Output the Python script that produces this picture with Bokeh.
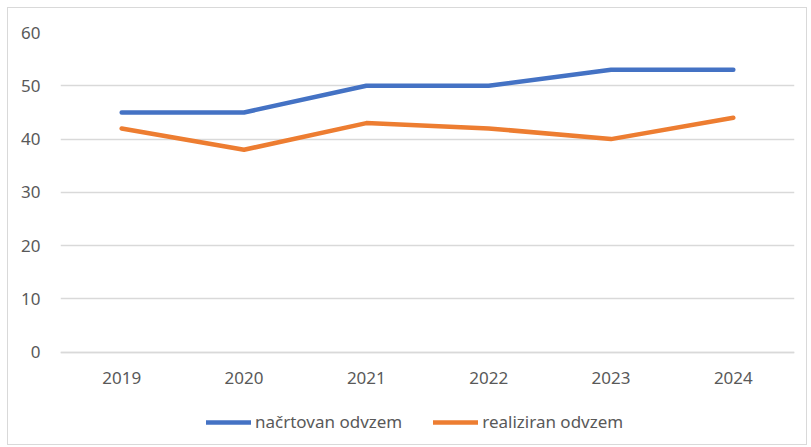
from bokeh.plotting import figure
from bokeh.models import Range1d, Legend, LegendItem
from bokeh.embed import file_html
from bokeh.resources import INLINE

years = ["2019", "2020", "2021", "2022", "2023", "2024"]
planned = [45, 45, 50, 50, 53, 53]
realized = [42, 38, 43, 42, 40, 44]
planned_label = "načrtovan odvzem"
realized_label = "realiziran odvzem"
y_ticks = [0, 10, 20, 30, 40, 50, 60]

p = figure(x_range=years, y_range=Range1d(-16.74, 60), width=800, height=438,
           output_backend="svg", toolbar_location=None,
           min_border_left=52, min_border_right=14, min_border_top=24, min_border_bottom=5)
p.styles = {"border": "1px solid #d9d9d9", "margin-left": "7px", "margin-top": "7px"}
p.outline_line_color = None
p.background_fill_color = "white"
p.border_fill_color = "white"

font = "Noto Sans"
r1 = p.line(years, planned, line_color="#4472C4", line_width=4.5, line_cap="round", line_join="round")
r2 = p.line(years, realized, line_color="#ED7D31", line_width=4.5, line_cap="round", line_join="round")

p.xgrid.grid_line_color = None
p.ygrid.grid_line_color = "#d9d9d9"
p.ygrid.grid_line_width = 1.5
p.yaxis.ticker = y_ticks
p.yaxis.axis_line_color = None
p.yaxis.major_tick_line_color = None
p.yaxis.minor_tick_line_color = None
p.yaxis.major_label_text_font = font
p.yaxis.major_label_text_font_size = "17px"
p.yaxis.major_label_text_color = "#595959"
p.yaxis.major_label_standoff = 14
p.xaxis.fixed_location = 0
p.xaxis.axis_line_color = "#d9d9d9"
p.xaxis.axis_line_width = 1.5
p.xaxis.major_tick_line_color = None
p.xaxis.minor_tick_line_color = None
p.xaxis.major_label_text_font = font
p.xaxis.major_label_text_font_size = "17px"
p.xaxis.major_label_text_color = "#595959"
p.xaxis.major_label_standoff = 14
p.x_range.range_padding = 0

legend = Legend(items=[LegendItem(label=planned_label, renderers=[r1]),
                       LegendItem(label=realized_label, renderers=[r2])],
                orientation="horizontal", location=(146, 8),
                label_text_font=font, label_text_font_size="17px", label_text_color="#595959",
                glyph_width=45, glyph_height=20, label_standoff=4, spacing=31,
                padding=2, margin=0, border_line_color=None, background_fill_alpha=0)
p.add_layout(legend, "center")

open("out.html", "w").write(file_html(p, INLINE))
